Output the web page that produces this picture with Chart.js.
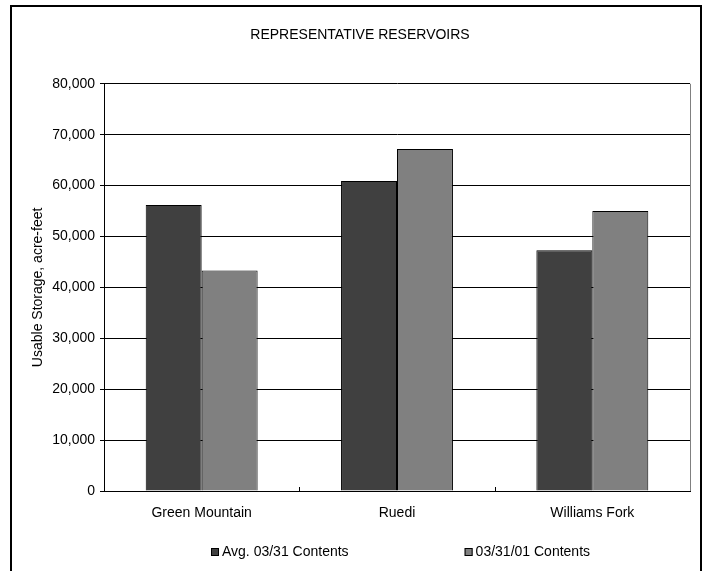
<!DOCTYPE html>
<html>
<head>
<meta charset="utf-8">
<title>Representative Reservoirs</title>
<script src="https://cdn.jsdelivr.net/npm/chart.js@4/dist/chart.umd.min.js"></script>
<style>
  html, body { margin: 0; padding: 0; background: #fff; }
  #wrap { width: 706px; height: 571px; position: relative; }
</style>
</head>
<body>
<div id="wrap"><canvas id="chart" width="706" height="571"></canvas></div>
<script>
// Reservoir names along the x axis
const reservoirs = ['Green Mountain', 'Ruedi', 'Williams Fork'];
// Usable storage, acre-feet
const avgContents = [56200, 60900, 47300];
const currentContents = [43300, 67200, 55000];
const seriesNames = ['Avg. 03/31 Contents', '03/31/01 Contents'];
// Y axis range and tick spacing
const yMin = 0;
const yMax = 80000;
const yStep = 10000;

const FONT = "'Liberation Sans', Arial, sans-serif";

// Frame around the whole figure, category tick marks, plot border and legend
const decorations = {
  id: 'decorations',
  beforeDraw(chart) {
    const ctx = chart.ctx;
    ctx.save();
    ctx.fillStyle = '#fff';
    ctx.fillRect(0, 0, chart.width, chart.height);
    ctx.restore();
  },
  afterDatasetsDraw(chart) {
    const ctx = chart.ctx;
    const area = chart.chartArea;
    const x = chart.scales.x;
    ctx.save();
    // right edge of the plot area
    ctx.strokeStyle = '#808080';
    ctx.lineWidth = 1;
    ctx.beginPath();
    ctx.moveTo(Math.round(area.right) + 0.5, area.top);
    ctx.lineTo(Math.round(area.right) + 0.5, area.bottom);
    ctx.stroke();
    // small inward tick marks between categories
    ctx.strokeStyle = '#000';
    const n = chart.data.labels.length;
    for (let i = 0; i < n - 1; i++) {
      const px = Math.round((x.getPixelForValue(i) + x.getPixelForValue(i + 1)) / 2) + 0.5;
      ctx.beginPath();
      ctx.moveTo(px, area.bottom);
      ctx.lineTo(px, area.bottom - 4);
      ctx.stroke();
    }
    ctx.restore();
  },
  afterDraw(chart) {
    const ctx = chart.ctx;
    ctx.save();
    // outer frame
    ctx.fillStyle = '#000';
    ctx.fillRect(10, 5, 2, chart.height - 5);
    ctx.fillRect(10, 5, 692, 2);
    ctx.fillRect(700, 5, 2, chart.height - 5);

    // legend
    ctx.font = '14px ' + FONT;
    ctx.textBaseline = 'middle';
    ctx.textAlign = 'left';
    const box = 8, textGap = 3, itemGap = 116, cy = 552;
    const items = chart.data.datasets.map(ds => ({
      label: ds.label, color: ds.backgroundColor,
      w: box + textGap + ctx.measureText(ds.label).width
    }));
    const total = items.reduce((s, it) => s + it.w, 0) + itemGap * (items.length - 1);
    let lx = Math.round(401 - total / 2);
    items.forEach(it => {
      ctx.fillStyle = it.color;
      ctx.fillRect(lx, cy - 4, box, box);
      ctx.strokeStyle = '#000';
      ctx.lineWidth = 1;
      ctx.strokeRect(lx + 0.5, cy - 3.5, box - 1, box - 1);
      ctx.fillStyle = '#000';
      ctx.fillText(it.label, lx + box + textGap, cy);
      lx += it.w + itemGap;
    });
    ctx.restore();
  }
};

new Chart(document.getElementById('chart'), {
  type: 'bar',
  data: {
    labels: reservoirs,
    datasets: [
      {
        label: seriesNames[0],
        data: avgContents,
        backgroundColor: '#404040',
        borderColor: '#000',
        borderWidth: 1
      },
      {
        label: seriesNames[1],
        data: currentContents,
        backgroundColor: '#808080',
        borderColor: '#000',
        borderWidth: 1
      }
    ]
  },
  options: {
    responsive: false,
    animation: false,
    events: [],
    layout: { padding: { left: 30, right: 16, top: 0, bottom: 40 } },
    datasets: {
      bar: { categoryPercentage: 0.573, barPercentage: 1.0 }
    },
    plugins: {
      legend: { display: false },
      tooltip: { enabled: false },
      title: {
        display: true,
        text: 'REPRESENTATIVE RESERVOIRS',
        color: '#000',
        font: { family: FONT, size: 14, weight: 'normal' },
        padding: { top: 27, bottom: 40 }
      }
    },
    scales: {
      x: {
        afterFit(scale) { scale.height = 40; },
        grid: { display: false, drawTicks: false },
        border: { display: true, color: '#000', width: 1 },
        ticks: {
          color: '#000',
          padding: 14,
          maxRotation: 0,
          font: { family: FONT, size: 14 }
        }
      },
      y: {
        min: yMin,
        max: yMax,
        afterFit(scale) { scale.width = 74; },
        grid: { color: '#000', lineWidth: 1, drawTicks: true, tickLength: 4 },
        border: { display: true, color: '#000', width: 1 },
        ticks: {
          stepSize: yStep,
          color: '#000',
          padding: 5,
          font: { family: FONT, size: 14 },
          callback: v => Number(v).toLocaleString('en-US')
        },
        title: {
          display: true,
          text: 'Usable Storage, acre-feet',
          color: '#000',
          font: { family: FONT, size: 14 },
          padding: 0
        }
      }
    }
  },
  plugins: [decorations]
});
</script>
</body>
</html>
